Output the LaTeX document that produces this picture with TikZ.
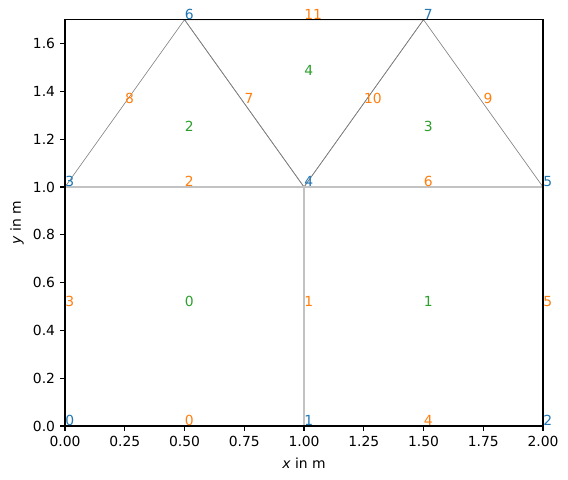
\documentclass[tikz,border=0pt]{standalone}
\usepackage{fontspec}
\setmainfont{DejaVu Sans}
\usepackage{tikz}
\usetikzlibrary{positioning,calc}
\definecolor{tabblue}{HTML}{1F77B4}
\definecolor{taborange}{HTML}{FF7F0E}
\definecolor{tabgreen}{HTML}{2CA02C}
\begin{document}
\begin{tikzpicture}[x=172.08pt,y=172.08pt,font=\fontsize{10}{12}\selectfont,
  quadedge/.style={line width=1.2pt,draw=black!24},
  triedge/.style={line width=0.45pt,draw=black!50},
  vnum/.style={anchor=base west,inner sep=0pt,text=tabblue},
  enum/.style={anchor=base west,inner sep=0pt,text=taborange},
  cnum/.style={anchor=base west,inner sep=0pt,text=tabgreen},
  ticklab/.style={inner sep=0pt}]
\useasboundingbox (-0.2720,-0.2259) rectangle (2.1046,1.7824);
% mesh vertices
\coordinate (v0) at (0,0);
\coordinate (v1) at (1,0);
\coordinate (v2) at (2,0);
\coordinate (v3) at (0,1);
\coordinate (v4) at (1,1);
\coordinate (v5) at (2,1);
\coordinate (v6) at (0.5,1.7);
\coordinate (v7) at (1.5,1.7);
% triangles
\draw[triedge] (v3) -- (v4) -- (v6) -- cycle;
\draw[triedge] (v4) -- (v5) -- (v7) -- cycle;
\draw[triedge] (v4) -- (v7) -- (v6) -- cycle;
% quads
\draw[quadedge] (v0) -- (v1) -- (v4) -- (v3) -- cycle;
\draw[quadedge] (v1) -- (v2) -- (v5) -- (v4) -- cycle;
% axes
\draw[line width=0.8pt] (0,0) rectangle (2,1.7);
\foreach \x/\t in {0/0.00,0.25/0.25,0.5/0.50,0.75/0.75,1/1.00,1.25/1.25,1.5/1.50,1.75/1.75,2/2.00} {
  \draw[line width=0.8pt] (\x,0) -- ++(0,-3.5pt);
  \node[ticklab,anchor=north] (xt\t) at ([yshift=-7pt]\x,0) {\t};
}
\foreach \y in {0.0,0.2,0.4,0.6,0.8,1.0,1.2,1.4,1.6} {
  \draw[line width=0.8pt] (0,\y) -- ++(-3.5pt,0);
  \node[ticklab,anchor=east] (yt\y) at ([xshift=-7pt]0,\y) {\y};
}
\node[ticklab,anchor=north] (xlab) at (1,-0.131) {\textit{x} in m};
\node[ticklab,rotate=90,anchor=south] (ylab) at (-0.1715,0.85) {\textit{y} in m};
% vertex numbers
\foreach \i in {0,...,7}
  \node[vnum] (vl\i) at (v\i) {\i};
% edge numbers
\foreach \i/\a/\b in {0/0/1,1/1/4,2/4/3,3/3/0,4/1/2,5/2/5,6/5/4,7/4/6,8/6/3,9/5/7,10/7/4,11/6/7}
  \node[enum] (el\i) at ($(v\a)!0.5!(v\b)$) {\i};
% element numbers
\node[cnum] (c0) at (0.5,0.5) {0};
\node[cnum] (c1) at (1.5,0.5) {1};
\node[cnum] (c2) at (0.5,1.2333) {2};
\node[cnum] (c3) at (1.5,1.2333) {3};
\node[cnum] (c4) at (1,1.4667) {4};
\end{tikzpicture}
\end{document}
